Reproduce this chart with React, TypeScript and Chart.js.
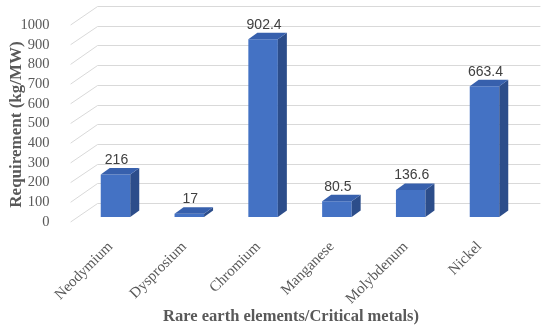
import React, { useEffect, useRef } from "react";
import { Chart, registerables } from "chart.js";

Chart.register(...registerables);

const categories = ["Neodymium", "Dysprosium", "Chromium", "Manganese", "Molybdenum", "Nickel"];
const values = [216, 17, 902.4, 80.5, 136.6, 663.4];
const valueLabels = ["216", "17", "902.4", "80.5", "136.6", "663.4"];
const yMin = 0;
const yMax = 1000;
const yStep = 100;
const yAxisTitle = "Requirement (kg/MW)";
const xAxisTitle = "Rare earth elements/Critical metals)";

const FRONT = "#4472C4";
const SIDE = "#2C4D8A";
const TOP = "#3760AD";
const GRID = "#D9D9D9";
const TEXT = "#595959";
const SERIF = "'Liberation Serif', 'Times New Roman', serif";
const SANS = "'Liberation Sans', Arial, sans-serif";

// 3D depth offsets
const DX = 9;
const DY = 6.5;
const FX = -8;
const FY = 5;
const BX = 19;
const BY = -14;

const threeD = {
  id: "threeD",
  beforeDatasetsDraw(chart: any) {
    const { ctx, chartArea, scales } = chart;
    const y = scales.y;
    ctx.save();
    ctx.strokeStyle = GRID;
    ctx.lineWidth = 1;
    y.ticks.forEach((t: any) => {
      const py = y.getPixelForValue(t.value);
      const yb = Math.round(py + BY) + 0.5;
      ctx.beginPath();
      ctx.moveTo(chartArea.left + FX, py + FY);
      ctx.lineTo(chartArea.left + BX, yb);
      ctx.lineTo(chartArea.right + BX, yb);
      ctx.stroke();
    });
    ctx.restore();
  },
  afterDatasetsDraw(chart: any) {
    const { ctx, chartArea } = chart;
    const meta = chart.getDatasetMeta(0);
    ctx.save();
    meta.data.forEach((bar: any, i: number) => {
      const { x, y, base, width } = bar.getProps(["x", "y", "base", "width"], true);
      const l = x - width / 2;
      const r = x + width / 2;
      ctx.fillStyle = SIDE;
      ctx.beginPath();
      ctx.moveTo(r, y);
      ctx.lineTo(r + DX, y - DY);
      ctx.lineTo(r + DX, base - DY);
      ctx.lineTo(r, base);
      ctx.closePath();
      ctx.fill();
      ctx.fillStyle = TOP;
      ctx.beginPath();
      ctx.moveTo(l, y);
      ctx.lineTo(l + DX, y - DY);
      ctx.lineTo(r + DX, y - DY);
      ctx.lineTo(r, y);
      ctx.closePath();
      ctx.fill();
      ctx.fillStyle = "#404040";
      ctx.font = `14px ${SANS}`;
      ctx.textAlign = "center";
      ctx.textBaseline = "middle";
      ctx.fillText(valueLabels[i], x + 1, y - 14.5);
    });
    // axis titles
    ctx.fillStyle = TEXT;
    ctx.font = `bold 16.5px ${SERIF}`;
    ctx.textAlign = "center";
    ctx.textBaseline = "middle";
    ctx.fillText(xAxisTitle, (chartArea.left + chartArea.right) / 2 - 9, 317);
    ctx.translate(17, (chartArea.top + chartArea.bottom) / 2 + 6);
    ctx.rotate(-Math.PI / 2);
    ctx.font = `bold 17px ${SERIF}`;
    ctx.fillText(yAxisTitle, 0, 0);
    ctx.restore();
  },
};

export default function App() {
  const ref = useRef<HTMLCanvasElement | null>(null);
  useEffect(() => {
    if (!ref.current) return;
    const chart = new Chart(ref.current, {
      type: "bar",
      data: {
        labels: categories,
        datasets: [
          {
            data: values,
            backgroundColor: FRONT,
            borderWidth: 0,
            barPercentage: 0.4,
            categoryPercentage: 1,
          },
        ],
      },
      options: {
        responsive: false,
        animation: false,
        layout: { padding: { top: 20, right: 28.6, left: 0, bottom: 0 } },
        plugins: { legend: { display: false }, tooltip: { enabled: false } },
        scales: {
          x: {
            grid: { display: false },
            border: { display: false },
            ticks: {
              minRotation: 45,
              maxRotation: 45,
              autoSkip: false,
              padding: 13,
              labelOffset: -5,
              color: TEXT,
              font: { family: SERIF, size: 15 },
            },
            afterFit(s: any) {
              s.height = 111;
              s.paddingLeft = 0;
              s.paddingRight = 0;
            },
          },
          y: {
            min: yMin,
            max: yMax,
            grid: { display: false },
            border: { display: false },
            ticks: {
              stepSize: yStep,
              autoSkip: false,
              padding: 21,
              labelOffset: 5,
              color: TEXT,
              font: { family: SERIF, size: 14.5 },
              callback: (v: any) => String(v),
            },
            afterFit(s: any) {
              s.width = 78.6;
              s.paddingTop = 0;
              s.paddingBottom = 0;
            },
          },
        },
      },
      plugins: [threeD],
    } as any);
    return () => chart.destroy();
  }, []);
  return (
    <div style={{ position: "fixed", left: 0, top: 0, width: 550, height: 328, background: "#fff" }}>
      <canvas ref={ref} width={550} height={328} />
    </div>
  );
}
